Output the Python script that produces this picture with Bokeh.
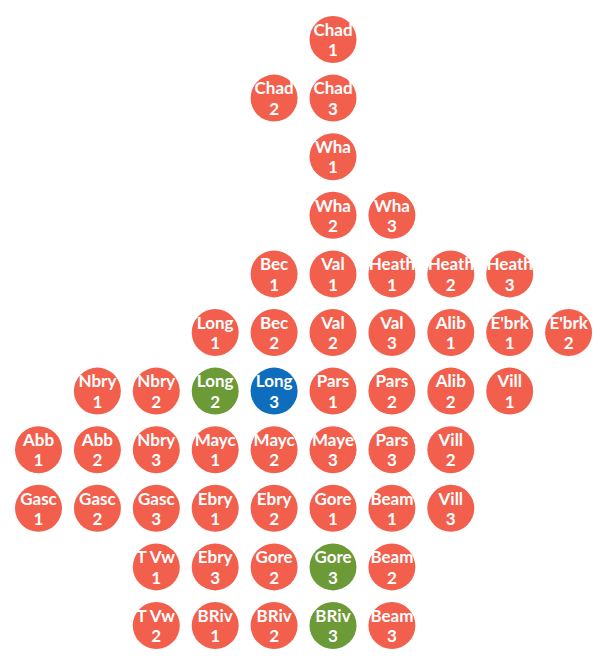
from bokeh.plotting import figure
from bokeh.models import ColumnDataSource, Range1d
from bokeh.core.properties import value
from bokeh.embed import file_html
from bokeh.resources import INLINE

labels = ["Chad 1", "Chad 2", "Chad 3", "Wha 1", "Wha 2", "Wha 3",
          "Bec 1", "Val 1", "Heath 1", "Heath 2", "Heath 3",
          "Long 1", "Bec 2", "Val 2", "Val 3", "Alib 1", "E'brk 1", "E'brk 2",
          "Nbry 1", "Nbry 2", "Long 2", "Long 3", "Pars 1", "Pars 2", "Alib 2", "Vill 1",
          "Abb 1", "Abb 2", "Nbry 3", "Mayc 1", "Mayc 2", "Maye 3", "Pars 3", "Vill 2",
          "Gasc 1", "Gasc 2", "Gasc 3", "Ebry 1", "Ebry 2", "Gore 1", "Beam 1", "Vill 3",
          "T Vw 1", "Ebry 3", "Gore 2", "Gore 3", "Beam 2",
          "T Vw 2", "BRiv 1", "BRiv 2", "BRiv 3", "Beam 3"]
cols = [5, 4, 5, 5, 5, 6,
        4, 5, 6, 7, 8,
        3, 4, 5, 6, 7, 8, 9,
        1, 2, 3, 4, 5, 6, 7, 8,
        0, 1, 2, 3, 4, 5, 6, 7,
        0, 1, 2, 3, 4, 5, 6, 7,
        2, 3, 4, 5, 6,
        2, 3, 4, 5, 6]
rows = [0, 1, 1, 2, 3, 3,
        4, 4, 4, 4, 4,
        5, 5, 5, 5, 5, 5, 5,
        6, 6, 6, 6, 6, 6, 6, 6,
        7, 7, 7, 7, 7, 7, 7, 7,
        8, 8, 8, 8, 8, 8, 8, 8,
        9, 9, 9, 9, 9,
        10, 10, 10, 10, 10]
groups = ["a"] * len(labels)
groups[labels.index("Long 2")] = "g"
groups[labels.index("Gore 3")] = "g"
groups[labels.index("BRiv 3")] = "g"
groups[labels.index("Long 3")] = "b"

palette = {"a": "#F25F4D", "g": "#6B9A37", "b": "#0F6DBD"}
colors = [palette[g] for g in groups]
texts = [l.rsplit(" ", 1)[0] + "\n" + l.rsplit(" ", 1)[1] for l in labels]
ys = [-r for r in rows]

src = ColumnDataSource(dict(x=cols, y=ys, c=colors, t=texts))

W, H = 596, 651
dx, dy = 58.9, 58.6
x0, y0 = 38.0, 39.0
p = figure(width=W, height=H, output_backend="svg", toolbar_location=None,
           x_range=Range1d(-x0 / dx, (W - x0) / dx),
           y_range=Range1d(-(H - y0) / dy, y0 / dy),
           min_border=0)
p.axis.visible = False
p.grid.visible = False
p.outline_line_color = None
p.background_fill_color = "white"

p.scatter("x", "y", source=src, size=47, fill_color="c", line_color=None)
p.text("x", "y", text="t", source=src, text_align="center", text_baseline="middle",
       text_color="white", text_font=value("Lato"), text_font_style="bold",
       text_font_size="17px", text_line_height=0.98)

open("out.html", "w").write(file_html(p, INLINE))
